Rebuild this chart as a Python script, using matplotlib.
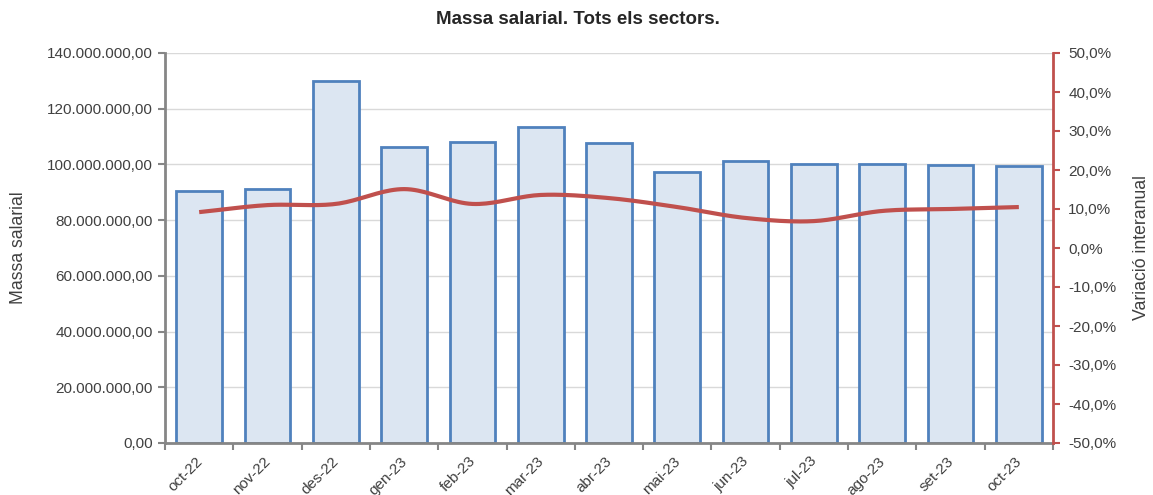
import numpy as np
import matplotlib
matplotlib.use("Agg")
import matplotlib.pyplot as plt
import matplotlib.transforms as mtransforms
from matplotlib.ticker import FuncFormatter, FixedLocator

plt.rcParams['font.family'] = ['Liberation Sans', 'DejaVu Sans']

categories = ["oct-22", "nov-22", "des-22", "gen-23", "feb-23", "mar-23", "abr-23",
              "mai-23", "jun-23", "jul-23", "ago-23", "set-23", "oct-23"]
massa = [90.5e6, 91.2e6, 130.0e6, 106.3e6, 108.0e6, 113.4e6, 107.7e6,
         97.3e6, 101.2e6, 100.1e6, 100.1e6, 99.8e6, 99.4e6]
variacio = [9.2, 11.0, 11.3, 15.1, 11.3, 13.6, 12.8, 10.5, 7.7, 6.9, 9.5, 10.0, 10.5]

title = "Massa salarial. Tots els sectors."
ylabel_left = "Massa salarial"
ylabel_right = "Variació interanual"

BAR_EDGE = "#4F81BD"
BAR_FACE = "#DCE6F2"
LINE = "#C0504D"
TXT = "#404040"
GRID = "#D9D9D9"
SPINE = "#868686"


def catmull_rom(x, y, n=20):
    x = np.asarray(x, float); y = np.asarray(y, float)
    px = np.concatenate([[2 * x[0] - x[1]], x, [2 * x[-1] - x[-2]]])
    py = np.concatenate([[2 * y[0] - y[1]], y, [2 * y[-1] - y[-2]]])
    xs, ys = [], []
    t = np.linspace(0, 1, n, endpoint=False)
    for i in range(1, len(px) - 2):
        p0, p1, p2, p3 = py[i - 1], py[i], py[i + 1], py[i + 2]
        q0, q1, q2, q3 = px[i - 1], px[i], px[i + 1], px[i + 2]
        def cr(a0, a1, a2, a3):
            return 0.5 * ((2 * a1) + (-a0 + a2) * t + (2 * a0 - 5 * a1 + 4 * a2 - a3) * t ** 2
                          + (-a0 + 3 * a1 - 3 * a2 + a3) * t ** 3)
        xs.append(cr(q0, q1, q2, q3)); ys.append(cr(p0, p1, p2, p3))
    xs.append([x[-1]]); ys.append([y[-1]])
    return np.concatenate(xs), np.concatenate(ys)


fig = plt.figure(figsize=(11.53, 4.95), dpi=100)
ax = fig.add_axes([165 / 1153, 1 - 443 / 495, (1053 - 165) / 1153, (443 - 53) / 495])

x = np.arange(len(categories))
ax.bar(x, massa, width=0.67, color=BAR_FACE, edgecolor=BAR_EDGE, linewidth=2, zorder=2)
ax.set_xlim(-0.5, len(categories) - 0.5)
ax.set_ylim(0, 140e6)
ax.set_yticks(np.arange(0, 140e6 + 1, 20e6))
ax.yaxis.set_major_formatter(FuncFormatter(
    lambda v, p: "{:,.2f}".format(v).replace(",", "X").replace(".", ",").replace("X", ".")))
ax.grid(axis='y', color=GRID, linewidth=1, zorder=0)
ax.set_axisbelow(True)

ax.set_xticks(x)
ax.set_xticklabels(categories, rotation=45, ha='right', rotation_mode='anchor', fontsize=11, color=TXT)
ax.tick_params(axis='x', which='major', length=0, pad=8)
offset = mtransforms.ScaledTranslation(-4 / 100, 0, fig.dpi_scale_trans)
for lbl in ax.get_xticklabels():
    lbl.set_transform(lbl.get_transform() + offset)
ax.xaxis.set_minor_locator(FixedLocator(np.arange(-0.5, len(categories), 1)))
ax.tick_params(axis='x', which='minor', length=5, width=1.5, color=SPINE, direction='out')
ax.tick_params(axis='y', length=5, width=1.5, color=SPINE, labelsize=11, labelcolor=TXT, pad=4)

for s in ['top', 'right']:
    ax.spines[s].set_visible(False)
for s in ['left', 'bottom']:
    ax.spines[s].set_color(SPINE)
    ax.spines[s].set_linewidth(2)

ax.set_ylabel(ylabel_left, fontsize=12.7, color=TXT, labelpad=14)

ax2 = ax.twinx()
ax2.set_ylim(-50, 50)
ax2.set_yticks(np.arange(-50, 51, 10))
ax2.yaxis.set_major_formatter(FuncFormatter(lambda v, p: "{:.1f}%".format(v).replace(".", ",")))
ax2.tick_params(axis='y', length=5, width=1.5, color=LINE, labelsize=11, labelcolor=TXT, pad=6)
for s in ['top', 'left', 'bottom']:
    ax2.spines[s].set_visible(False)
ax2.spines['right'].set_color(LINE)
ax2.spines['right'].set_linewidth(2)
sx, sy = catmull_rom(x, variacio)
ax2.plot(sx, sy, color=LINE, linewidth=3, solid_capstyle='butt', zorder=3)
ax2.set_ylabel(ylabel_right, fontsize=12.7, color=TXT, labelpad=12)

fig.text(578 / 1153, 1 - 20 / 495, title, ha='center', va='center', fontsize=13.5, fontweight='bold', color="#262626")

fig.savefig("out.png", dpi=100)
